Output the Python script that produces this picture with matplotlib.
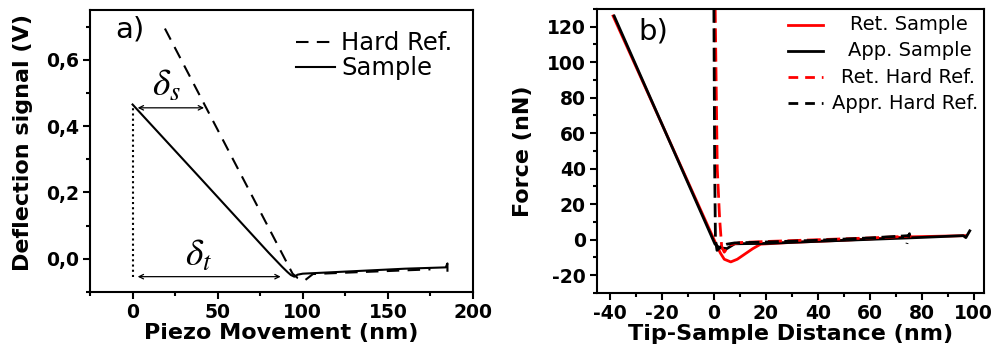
import matplotlib
matplotlib.use('Agg')
import matplotlib.pyplot as plt
from matplotlib.ticker import MultipleLocator, FuncFormatter

# ---- data: panel a (deflection vs piezo movement) ----
piezo_sample = [0, 40, 80, 88, 91, 93, 95, 97, 100, 120, 140, 160, 184, 185, 185]
defl_sample = [0.465, 0.242, 0.018, -0.025, -0.040, -0.049, -0.054, -0.048, -0.045,
               -0.040, -0.035, -0.030, -0.026, -0.014, -0.036]
piezo_hard = [19, 94, 97, 101, 106, 130, 160, 175]
defl_hard = [0.694, -0.045, -0.058, -0.066, -0.046, -0.041, -0.035, -0.032]

# indentation arrows (x start, x end, y)
delta_s = (3, 42, 0.455)
delta_t = (3, 87, -0.054)

# ---- data: panel b (force vs tip-sample distance) ----
dist_ret = [-38.8, 1.0, 2.5, 4, 6.5, 9, 12, 15, 18, 30, 50, 75, 97]
force_ret = [126, -3, -7.5, -11, -12.5, -11, -8, -5, -2.5, -1.5, -0.3, 1.6, 2.3]
dist_app = [-38.4, 0.4, 2, 5, 8, 12, 20, 40, 60, 80, 96, 97, 98.5]
force_app = [126, -2.4, -4.5, -5.0, -2.3, -2.2, -2.1, -0.9, 0.2, 1.3, 2.3, 1.2, 5.0]
dist_ret_hard = [0.5, 1.3, 2.2, 3.0, 4.0, 6, 10, 20, 40, 60, 76]
force_ret_hard = [130, 40, 12, -4, -7, -3, -1.6, -1.0, 0.0, 1.0, 2.0]
dist_app_hard = [0, 0.3, 0.6, 1.2, 2.5, 5, 8, 20, 40, 60, 75, 75.3, 74.3]
force_app_hard = [130, 40, 0, -6, -4, -2.5, -1.8, -1.3, -0.3, 1.0, 2.3, 3.4, -2.3]

plt.rcParams['font.family'] = ['DejaVu Sans']
plt.rcParams['mathtext.fontset'] = 'stix'
plt.rcParams['axes.unicode_minus'] = False

fig = plt.figure(figsize=(9.97, 3.56), dpi=100)
ax1 = fig.add_axes([0.0903, 0.180, 0.3841, 0.792])
ax2 = fig.add_axes([0.5988, 0.177, 0.3882, 0.798])


def style_axes(ax):
    for s in ax.spines.values():
        s.set_linewidth(1.5)
    ax.tick_params(which='major', direction='out', length=5, width=1.5,
                   labelsize=13.5, pad=3)
    ax.tick_params(which='minor', direction='out', length=3, width=1.5)
    for lab in ax.get_xticklabels() + ax.get_yticklabels():
        lab.set_fontweight('bold')


# ---- panel a ----
ax1.plot(piezo_hard, defl_hard, color='black', lw=1.5, dashes=(6, 4), label='Hard Ref.')
ax1.plot(piezo_sample, defl_sample, color='black', lw=1.5, label='Sample')
ax1.vlines(piezo_sample[0], delta_t[2], defl_sample[0], colors='black',
           linestyles=(0, (1, 1.5)), lw=1.5)
for (x0, x1, y) in (delta_s, delta_t):
    ax1.annotate('', xy=(x1, y), xytext=(x0, y),
                 arrowprops=dict(arrowstyle='<->', lw=0.9, color='black',
                                 shrinkA=0, shrinkB=0, mutation_scale=8))
ax1.text(20, 0.52, r'$\delta_s$', fontsize=27, ha='center', va='center')
ax1.text(39, 0.01, r'$\delta_t$', fontsize=27, ha='center', va='center')
ax1.text(0.104, 0.929, 'a)', transform=ax1.transAxes, fontsize=21,
         ha='center', va='center')

ax1.set_xlim(-25, 200)
ax1.set_ylim(-0.1, 0.75)
ax1.set_xticks([0, 50, 100, 150, 200])
ax1.xaxis.set_minor_locator(MultipleLocator(25))
ax1.set_yticks([0.0, 0.2, 0.4, 0.6])
ax1.yaxis.set_minor_locator(MultipleLocator(0.1))
ax1.yaxis.set_major_formatter(FuncFormatter(lambda v, p: f'{v:.1f}'.replace('.', ',')))
ax1.set_xlabel('Piezo Movement (nm)', fontsize=16, fontweight='bold', labelpad=1)
ax1.set_ylabel('Deflection signal (V)', fontsize=16, fontweight='bold')
ax1.yaxis.set_label_coords(-0.15, 0.53)
style_axes(ax1)
ax1.legend(loc='upper right', bbox_to_anchor=(0.99, 0.985), frameon=False,
           fontsize=17.5, handlelength=1.6, handletextpad=0.25, labelspacing=0.05,
           borderpad=0.2)

# ---- panel b ----
red = '#ff0000'
lines_b = [
    (dist_ret, force_ret, red, '-', 'Ret. Sample'),
    (dist_app, force_app, 'black', '-', 'App. Sample'),
    (dist_ret_hard, force_ret_hard, red, '--', 'Ret. Hard Ref.'),
    (dist_app_hard, force_app_hard, 'black', '--', 'Appr. Hard Ref.'),
]
for x, y, c, ls, lab in lines_b:
    if ls == '-':
        ax2.plot(x, y, color=c, lw=2)
    else:
        ax2.plot(x, y, color=c, lw=2, dashes=(5, 2))

# legend with right-aligned labels
label_right = [0.959, 0.969, 0.977, 0.984]
for i, (x, y, c, ls, lab) in enumerate(lines_b):
    yy = 0.944 - i * 0.092
    if ls == '-':
        ax2.plot([0.494, 0.584], [yy, yy], color=c, lw=2, transform=ax2.transAxes)
    else:
        ax2.plot([0.494, 0.584], [yy, yy], color=c, lw=2, dashes=(3.5, 2.5),
                 transform=ax2.transAxes)
    ax2.text(label_right[i], yy, lab, transform=ax2.transAxes, fontsize=14,
             ha='right', va='center')

ax2.text(0.145, 0.922, 'b)', transform=ax2.transAxes, fontsize=21,
         ha='center', va='center')
ax2.set_xlim(-45, 104)
ax2.set_ylim(-30, 130)
ax2.set_xticks(range(-40, 101, 20))
ax2.xaxis.set_minor_locator(MultipleLocator(10))
ax2.set_yticks(range(-20, 121, 20))
ax2.yaxis.set_minor_locator(MultipleLocator(10))
ax2.set_xlabel('Tip-Sample Distance (nm)', fontsize=16, fontweight='bold', labelpad=1)
ax2.set_ylabel('Force (nN)', fontsize=16, fontweight='bold', labelpad=10)
style_axes(ax2)

fig.savefig('out.png', dpi=100)
